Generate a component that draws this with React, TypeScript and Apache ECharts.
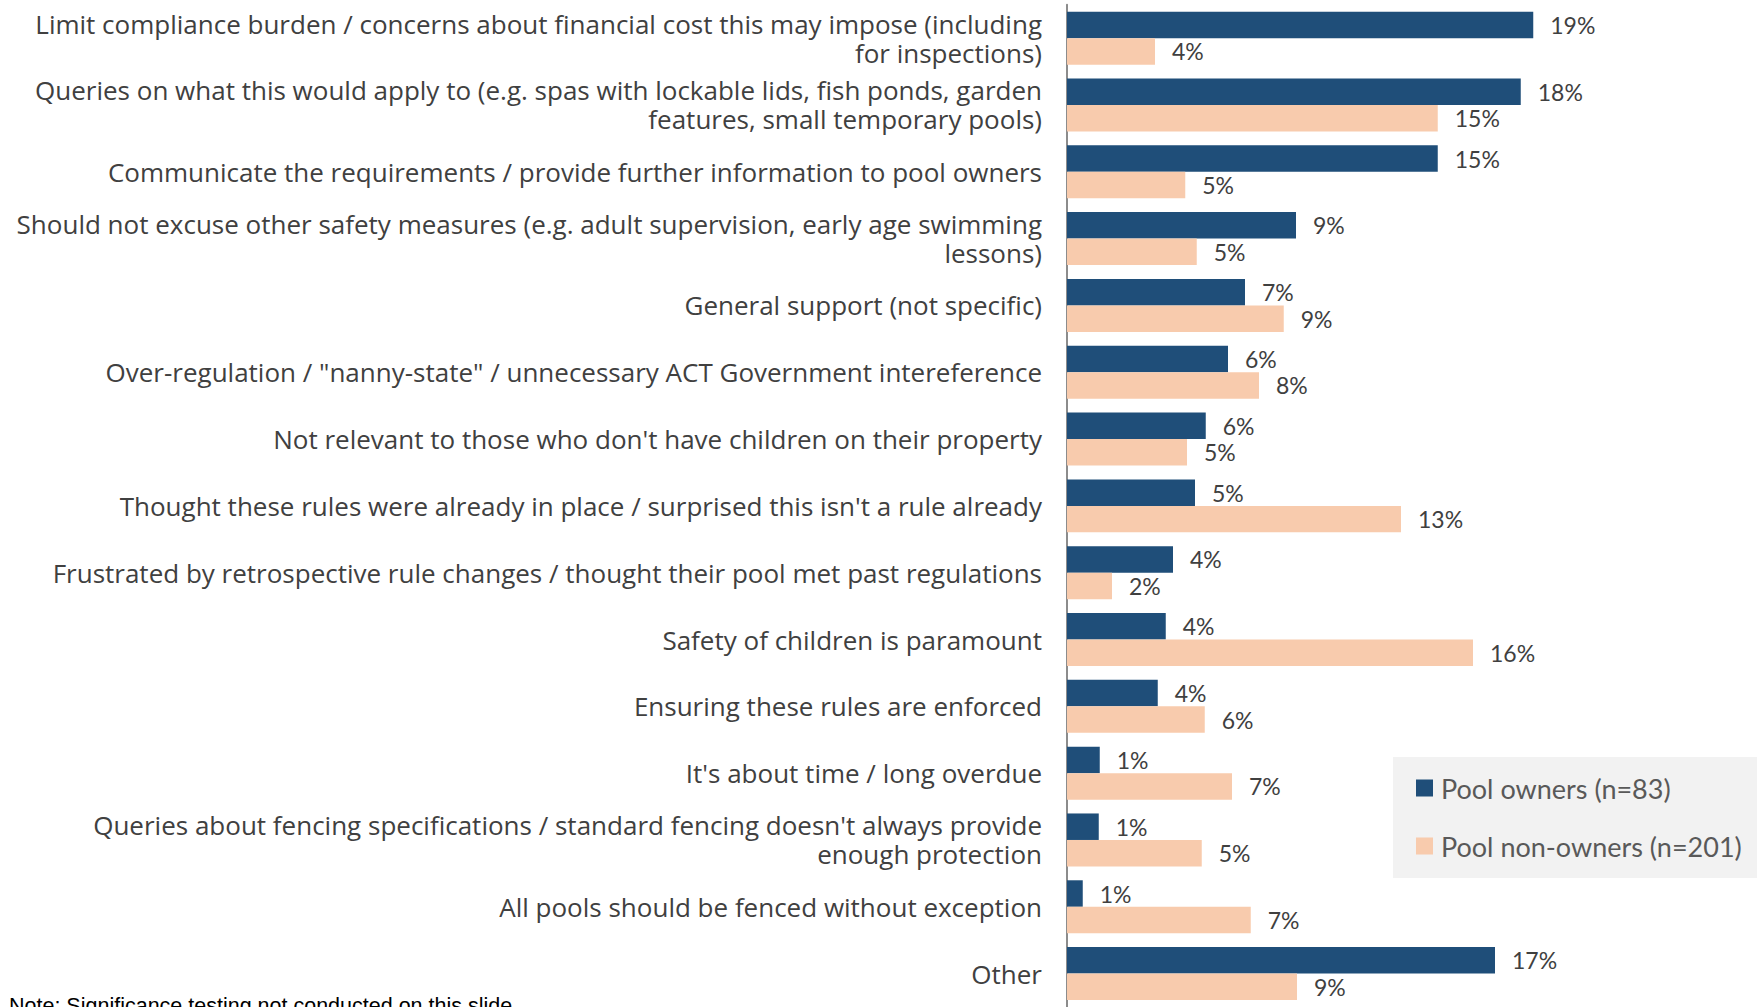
import React, { useEffect, useRef } from "react";
import * as echarts from "echarts";

const categories = [
  "Limit compliance burden / concerns about financial cost this may impose (including\nfor inspections)",
  "Queries on what this would apply to (e.g. spas with lockable lids, fish ponds, garden\nfeatures, small temporary pools)",
  "Communicate the requirements / provide further information to pool owners",
  "Should not excuse other safety measures (e.g. adult supervision, early age swimming\nlessons)",
  "General support (not specific)",
  "Over-regulation / \"nanny-state\" / unnecessary ACT Government intereference",
  "Not relevant to those who don't have children on their property",
  "Thought these rules were already in place / surprised this isn't a rule already",
  "Frustrated by retrospective rule changes / thought their pool met past regulations",
  "Safety of children is paramount",
  "Ensuring these rules are enforced",
  "It's about time / long overdue",
  "Queries about fencing specifications / standard fencing doesn't always provide\nenough protection",
  "All pools should be fenced without exception",
  "Other",
];

const poolOwners = [18.65, 18.15, 14.83, 9.16, 7.12, 6.44, 5.55, 5.12, 4.24, 3.95, 3.63, 1.31, 1.27, 0.63, 17.12];
const poolNonOwners = [3.52, 14.83, 4.73, 5.19, 8.67, 7.68, 4.8, 13.36, 1.8, 16.24, 5.51, 6.6, 5.39, 7.35, 9.2];

const seriesNames = ["Pool owners (n=83)", "Pool non-owners (n=201)"];
const noteText = "Note: Significance testing not conducted on this slide";

export default function App() {
  const ref = useRef<HTMLDivElement>(null);
  useEffect(() => {
    if (!ref.current) return;
    const chart = echarts.init(ref.current, null, { renderer: "svg" });
    const labelCfg = {
      show: true,
      position: "right",
      distance: 17,
      fontFamily: "Lato",
      fontSize: 23,
      color: "#404040",
      formatter: (p: any) => Math.round(p.value) + "%",
    };
    chart.setOption({
      animation: false,
      grid: { left: 1067, top: 4.75, height: 1008, width: 675, containLabel: false },
      xAxis: {
        type: "value",
        min: 0,
        max: 27,
        show: false,
        splitLine: { show: false },
      },
      yAxis: {
        type: "category",
        inverse: true,
        data: categories,
        axisLine: { show: true, lineStyle: { color: "#8C8C8C", width: 2 } },
        axisTick: { show: false },
        axisLabel: {
          fontFamily: "Open Sans",
          fontSize: 26,
          color: "#404040",
          margin: 25,
          lineHeight: 29,
          align: "right",
          padding: [0, 0, 3, 0],
        },
      },
      legend: {
        orient: "vertical",
        left: 1416,
        top: 773,
        padding: 0,
        itemWidth: 17,
        itemHeight: 17,
        itemGap: 28,
        icon: "rect",
        textStyle: {
          fontFamily: "Lato",
          fontSize: 27,
          color: "#595959",
          lineHeight: 30,
          padding: [0, 0, 0, 3],
        },
        data: seriesNames,
      },
      graphic: [
        {
          type: "rect",
          z: -10,
          shape: { x: 1393, y: 757, width: 364, height: 121 },
          style: { fill: "#F2F2F2" },
        },
        {
          type: "text",
          x: 9,
          y: 995,
          style: {
            text: noteText,
            fontFamily: "Liberation Sans",
            fontSize: 21.5,
            fill: "#000000",
            textVerticalAlign: "top",
          },
        },
      ],
      series: [
        {
          name: seriesNames[0],
          type: "bar",
          data: poolOwners,
          barGap: "0%",
          barCategoryGap: "20.7%",
          itemStyle: { color: "#1F4E79" },
          label: labelCfg,
        },
        {
          name: seriesNames[1],
          type: "bar",
          data: poolNonOwners,
          barGap: "0%",
          barCategoryGap: "20.7%",
          itemStyle: { color: "#F8CBAD" },
          label: labelCfg,
        },
      ],
    });
    return () => chart.dispose();
  }, []);
  return (
    <div
      ref={ref}
      style={{ position: "absolute", left: 0, top: 0, width: 1757, height: 1007 }}
    />
  );
}
